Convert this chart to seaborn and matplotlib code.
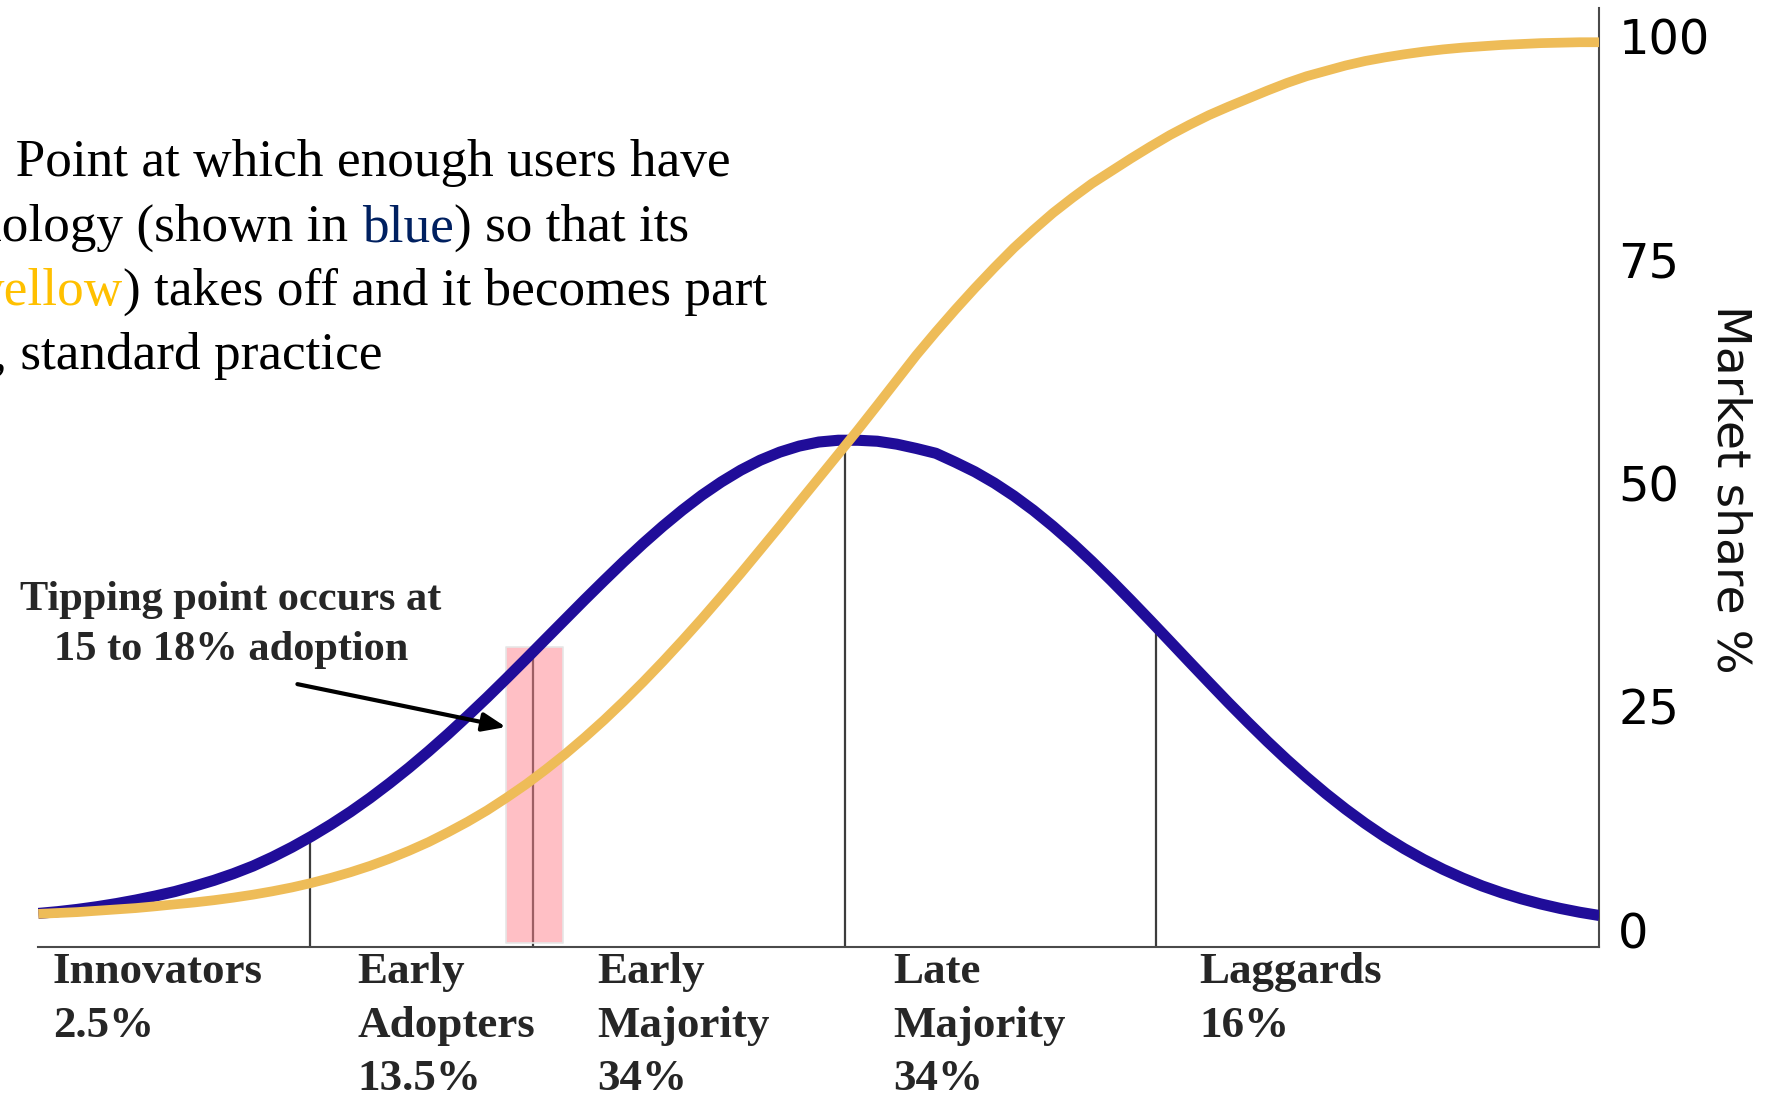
import numpy as np
import matplotlib
matplotlib.use("Agg")
import matplotlib.pyplot as plt
from matplotlib.transforms import blended_transform_factory
import seaborn as sns

# ---------------------------------------------------------------- data
# position along the adoption timeline (0 = launch, 100 = saturation)
time_pts = [0, 1.25, 2.5, 3.75, 5, 6.25, 7.5, 8.75, 10, 11.25, 12.5, 13.75,
            15, 16.25, 17.5, 18.75, 20, 21.25, 22.5, 23.75, 25, 26.25, 27.5,
            28.75, 30, 31.25, 32.5, 33.75, 35, 36.25, 37.5, 38.75, 40, 41.25,
            42.5, 43.75, 45, 46.25, 47.5, 48.75, 50, 51.25, 52.5, 53.75, 55,
            56.25, 57.5, 58.75, 60, 61.25, 62.5, 63.75, 65, 66.25, 67.5, 68.75,
            70, 71.25, 72.5, 73.75, 75, 76.25, 77.5, 78.75, 80, 81.25, 82.5,
            83.75, 85, 86.25, 87.5, 88.75, 90, 91.25, 92.5, 93.75, 95, 96.25,
            97.5, 98.75, 100]

# blue bell curve: rate of new adopters
adoption_rate = [1.85, 2.05, 2.30, 2.60, 2.95, 3.35, 3.80, 4.30, 4.90, 5.55,
                 6.30, 7.15, 8.15, 9.26, 10.48, 11.80, 13.22, 14.76, 16.41,
                 18.15, 19.99, 21.92, 23.94, 26.01, 28.15, 30.33, 32.54, 34.74,
                 36.94, 39.09, 41.20, 43.23, 45.15, 46.95, 48.62, 50.11, 51.43,
                 52.55, 53.45, 54.13, 54.58, 54.78, 54.78, 54.67, 54.34, 53.86,
                 53.32, 52.32, 51.25, 49.99, 48.55, 46.94, 45.16, 43.25, 41.21,
                 39.07, 36.85, 34.58, 32.28, 29.97, 27.68, 25.41, 23.21, 21.07,
                 19.02, 17.08, 15.24, 13.52, 11.92, 10.44, 9.10, 7.88, 6.78,
                 5.80, 4.92, 4.16, 3.49, 2.91, 2.41, 1.98, 1.62]

# yellow S-curve: cumulative market share
market_share = [1.80, 1.90, 2.00, 2.15, 2.30, 2.45, 2.65, 2.87, 3.08, 3.33,
                3.62, 3.95, 4.33, 4.76, 5.26, 5.83, 6.46, 7.17, 7.97, 8.86,
                9.83, 10.93, 12.10, 13.38, 14.80, 16.30, 17.94, 19.67, 21.53,
                23.49, 25.57, 27.74, 30.01, 32.37, 34.80, 37.32, 39.88, 42.52,
                45.17, 47.87, 50.55, 53.23, 55.93, 58.70, 61.50, 64.30, 66.90,
                69.40, 71.80, 74.10, 76.30, 78.30, 80.20, 81.90, 83.50, 84.90,
                86.30, 87.64, 88.92, 90.07, 91.15, 92.10, 93.00, 93.90, 94.75,
                95.50, 96.10, 96.70, 97.20, 97.60, 97.95, 98.25, 98.50, 98.70,
                98.85, 99.00, 99.10, 99.20, 99.25, 99.30, 99.30]

segment_bounds = [17.4, 31.7, 51.7, 71.6]
tipping_zone = [29.96, 33.59]
tipping_top = 31.7

categories = ["Innovators", "Early\nAdopters", "Early\nMajority",
              "Late\nMajority", "Laggards"]
category_shares = ["2.5", "13.5", "34", "34", "16"]
category_x = [0.94, 20.45, 35.8, 54.75, 74.35]

y_ticks = [0, 25, 50, 75, 100]

# ---------------------------------------------------------------- style
sns.set_style("white")
plt.rcParams["font.family"] = ["DejaVu Sans"]

BLUE = "#200D99"
YELLOW = "#EEBC58"
SERIF = "Liberation Serif"

W, H = 1769, 1096
fig = plt.figure(figsize=(W / 100, H / 100), dpi=100)
ax = fig.add_axes([38.3 / W, 1 - 946.7 / H, (1599.3 - 38.3) / W, (946.7 - 8) / H])
ax.set_xlim(0, 100)
ax.set_ylim(-1.87, 103.13)

# ---------------------------------------------------------------- marks
ymin = ax.get_ylim()[0]
tops = np.interp(segment_bounds, time_pts, adoption_rate)
ax.vlines(segment_bounds, ymin, tops, color="#3c3c3c", lw=1.6, zorder=1)

ax.fill_between(tipping_zone, -1.42, tipping_top,
                facecolor=(1.0, 0.5, 0.55, 0.5), edgecolor="#e6e6e6",
                lw=1.2, zorder=2)

sns.lineplot(x=time_pts, y=adoption_rate, color=BLUE, lw=8, ax=ax,
             sort=False, zorder=3, solid_capstyle="butt",
             solid_joinstyle="round")
sns.lineplot(x=time_pts, y=market_share, color=YELLOW, lw=7, ax=ax,
             sort=False, zorder=4, solid_capstyle="butt",
             solid_joinstyle="round")

# ---------------------------------------------------------------- axes
for side in ("left", "top"):
    ax.spines[side].set_visible(False)
for side in ("right", "bottom"):
    ax.spines[side].set_color("#4a4a4a")
    ax.spines[side].set_linewidth(1.5)
ax.set_xticks([])
ax.yaxis.tick_right()
ax.set_yticks(y_ticks)
ax.set_yticklabels([str(t) for t in y_ticks])
ax.tick_params(axis="y", length=0, pad=13.7, labelsize=34.5, labelcolor="black")
ax.set_xlabel("")
ax.set_ylabel("")

fig.text(1729.5 / W, 1 - 489 / H, "Market share %", rotation=270,
         ha="center", va="center", fontsize=34, color="#111111")

# ---------------------------------------------------------------- arrow + note
ax.annotate("", xy=(29.96, 22.7), xytext=(16.6, 27.5),
            arrowprops=dict(arrowstyle="-|>,head_length=0.7,head_width=0.28",
                            mutation_scale=20, lw=3, color="black",
                            shrinkA=0, shrinkB=0), zorder=5)

for txt, base in [("Tipping point occurs at", 610), ("15 to 18% adoption", 660)]:
    fig.text(231 / W, 1 - base / H, txt, ha="center", va="baseline",
             fontsize=30.5, fontweight="bold", family=SERIF)

# category labels under the axis
lab_tr = blended_transform_factory(ax.transData, fig.transFigure)
label_baselines = [983, 1037, 1090]
for name, share, xc in zip(categories, category_shares, category_x):
    lines = name.split("\n") + [share + "%"]
    for line, base in zip(lines, label_baselines):
        ax.text(xc, 1 - base / H, line, transform=lab_tr, ha="left",
                va="baseline", fontsize=32.4, fontweight="bold",
                family=SERIF, clip_on=False)

# ---------------------------------------------------------------- definition text
renderer = fig.canvas.get_renderer()
font_kw = dict(fontsize=38.3, family=SERIF)


def ink_width(s):
    t = fig.text(0, 0, s, **font_kw)
    w = t.get_window_extent(renderer).width
    t.remove()
    return w


def draw_line(segments, anchor, anchor_x, baseline):
    full = "".join(s for s, _ in segments)
    i = full.index(anchor)
    x0 = anchor_x - (ink_width(full[:i + 1]) - ink_width(full[i]))
    acc = ""
    for s, col in segments:
        acc += s
        piece = s.strip()
        xs = x0 + ink_width(acc.rstrip()) - ink_width(piece)
        fig.text(xs / W, 1 - baseline / H, piece, ha="left", va="baseline",
                 color=col, **font_kw)


K = "black"
draw_line([("Tipping point: Point at which enough users have", K)],
          "Point", 16, 176)
draw_line([("adopted a new technology (shown in", K), (" blue", "#002060"),
           (") so that its", K)], "ology", 2, 241)
draw_line([("market share (shown in", K), (" yellow", "#FFC000"),
           (") takes off and it becomes part", K)], "ellow", 4, 305)
draw_line([("of everyday, standard practice", K)], "standard", 20, 369)

fig.savefig("out.png", dpi=100)
